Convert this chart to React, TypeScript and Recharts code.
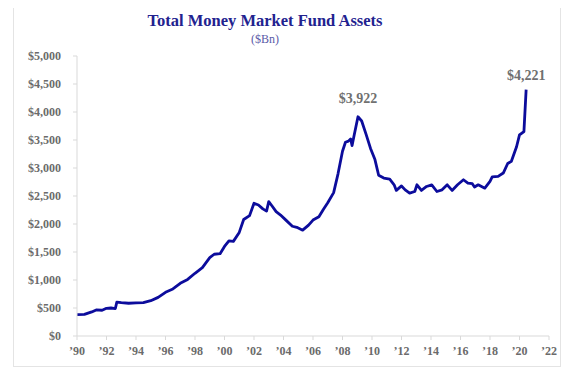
import { LineChart, Line, XAxis, YAxis, ReferenceDot } from "recharts";

// year (fractional) and total assets, $Bn
const years = [
  1990.0, 1990.5, 1991.0, 1991.3, 1991.7, 1992.0, 1992.3, 1992.6, 1992.7, 1993.0,
  1993.5, 1994.0, 1994.5, 1995.0, 1995.5, 1996.0, 1996.5, 1997.0, 1997.5, 1998.0,
  1998.5, 1999.0, 1999.3, 1999.7, 2000.0, 2000.3, 2000.6, 2001.0, 2001.3, 2001.7,
  2002.0, 2002.3, 2002.6, 2002.85, 2003.0, 2003.2, 2003.5, 2003.8, 2004.2, 2004.6,
  2004.9, 2005.3, 2005.7, 2006.0, 2006.4, 2006.7, 2007.0, 2007.4, 2007.7, 2008.0,
  2008.2, 2008.4, 2008.55, 2008.65, 2008.8, 2009.05, 2009.3, 2009.6, 2009.9, 2010.2,
  2010.45, 2010.8, 2011.2, 2011.5, 2011.65, 2012.0, 2012.25, 2012.55, 2012.9, 2013.05,
  2013.35, 2013.7, 2014.05, 2014.4, 2014.75, 2015.1, 2015.43, 2015.8, 2016.2, 2016.5,
  2016.8, 2016.95, 2017.2, 2017.65, 2018.0, 2018.15, 2018.55, 2018.9, 2019.2, 2019.45,
  2019.8, 2020.0, 2020.3, 2020.45,
];
const assets = [
  380, 385, 430, 465, 460, 495, 500, 490, 605, 595,
  585, 590, 595, 630, 690, 780, 840, 940, 1010, 1120,
  1220, 1400, 1460, 1470, 1600, 1700, 1690, 1850, 2080, 2150,
  2370, 2340, 2270, 2230, 2400, 2330, 2220, 2160, 2060, 1960,
  1940, 1890, 1980, 2070, 2130, 2260, 2380, 2560, 2900, 3300,
  3460, 3480, 3520, 3400, 3600, 3915, 3840, 3600, 3350, 3150,
  2870, 2820, 2800, 2700, 2600, 2680, 2610, 2550, 2580, 2700,
  2600, 2670, 2700, 2580, 2610, 2700, 2600, 2700, 2790, 2730,
  2720, 2660, 2700, 2640, 2760, 2840, 2850, 2910, 3080, 3120,
  3380, 3590, 3650, 4400,
];
const xTicks = [1990, 1992, 1994, 1996, 1998, 2000, 2002, 2004, 2006, 2008, 2010, 2012, 2014, 2016, 2018, 2020, 2022];
const yTicks = [0, 500, 1000, 1500, 2000, 2500, 3000, 3500, 4000, 4500, 5000];
const peakGfc = { year: 2009.05, value: 3915, label: "$3,922" };
const peakCovid = { year: 2020.45, value: 4400, label: "$4,221" };

const data = years.map((y, i) => ({ year: y, assets: assets[i] }));

const serif = "'Liberation Serif', 'DejaVu Serif', serif";
const tickStyle = { fontSize: 12, fill: "#6b6b6b", fontFamily: serif, fontWeight: 600 };

export default function App() {
  return (
    <div style={{ position: "relative", width: 572, height: 373, margin: "-8px 0 0 -8px", background: "#fff" }}>
      <div
        style={{
          position: "absolute",
          left: 13,
          top: 4,
          width: 548,
          height: 363,
          border: "1px solid #e4e4e4",
          boxSizing: "border-box",
        }}
      />
      <div
        style={{
          position: "absolute",
          left: 0,
          width: 530,
          top: 13,
          textAlign: "center",
          fontFamily: serif,
          color: "#22228f",
          lineHeight: 1,
        }}
      >
        <div style={{ fontSize: 16.5, fontWeight: 700 }}>Total Money Market Fund Assets</div>
        <div style={{ fontSize: 12, marginTop: 3, color: "#5a5aa8" }}>($Bn)</div>
      </div>
      <div style={{ position: "absolute", left: 0, top: 0 }}>
        <LineChart width={572} height={373} data={data} margin={{ top: 56, right: 23, bottom: 12, left: 17 }}>
          <XAxis
            dataKey="year"
            type="number"
            domain={[1990, 2022]}
            ticks={xTicks}
            interval={0}
            tickFormatter={(v: number) => "\u2019" + String(v).slice(2)}
            stroke="#d9d9d9"
            tickSize={4}
            tickMargin={6}
            height={25}
            tick={tickStyle}
          />
          <YAxis
            type="number"
            domain={[0, 5000]}
            ticks={yTicks}
            interval={0}
            tickFormatter={(v: number) => "$" + v.toLocaleString("en-US")}
            stroke="#d9d9d9"
            tickSize={4}
            tickMargin={12}
            width={60}
            tick={tickStyle}
          />
          <Line
            type="linear"
            dataKey="assets"
            stroke="#0c0c9c"
            strokeWidth={2.8}
            strokeLinejoin="round"
            dot={false}
            isAnimationActive={false}
          />
          <ReferenceDot
            x={peakGfc.year}
            y={peakGfc.value}
            r={0}
            stroke="none"
            label={{ value: peakGfc.label, position: "top", offset: 14, fontSize: 14, fill: "#707070", fontFamily: serif, fontWeight: 600 }}
          />
          <ReferenceDot
            x={peakCovid.year}
            y={peakCovid.value}
            r={0}
            stroke="none"
            label={{ value: peakCovid.label, position: "top", offset: 10, fontSize: 14, fill: "#707070", fontFamily: serif, fontWeight: 600 }}
          />
        </LineChart>
      </div>
    </div>
  );
}
